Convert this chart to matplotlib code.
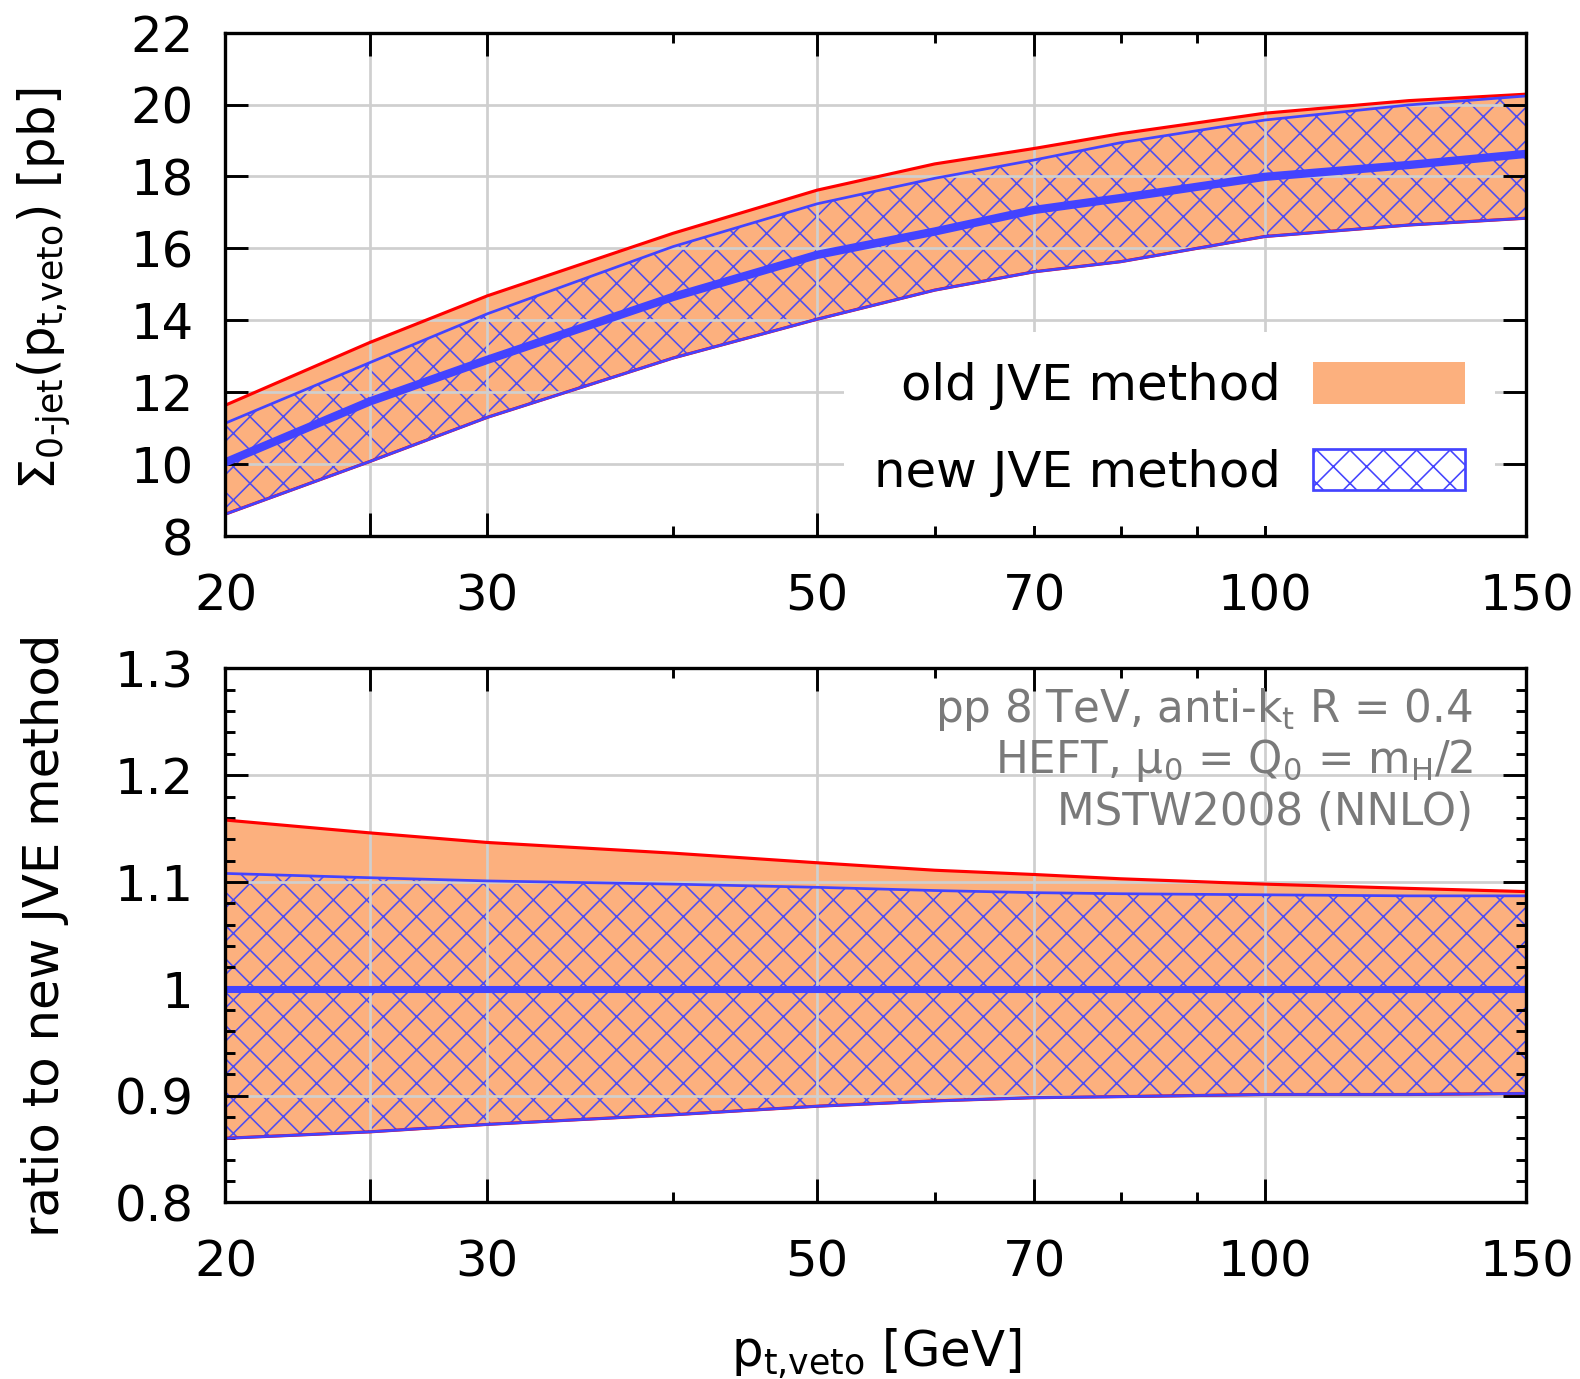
import numpy as np
import matplotlib.pyplot as plt
from matplotlib.patches import Patch
from matplotlib.ticker import FixedLocator, FuncFormatter, NullFormatter, MultipleLocator

plt.rcParams['font.family'] = ['DejaVu Sans']
plt.rcParams['mathtext.default'] = 'regular'
plt.rcParams['hatch.linewidth'] = 1.15

# jet veto scale [GeV]
pt_veto = [20, 25, 30, 40, 50, 60, 70, 80, 100, 125, 150]

# 0-jet cross section [pb]
old_hi = [11.64, 13.38, 14.68, 16.42, 17.62, 18.35, 18.78, 19.19, 19.76, 20.11, 20.29]
old_lo = [8.61, 10.07, 11.30, 12.95, 14.03, 14.84, 15.35, 15.63, 16.33, 16.65, 16.84]
new_hi = [11.14, 12.82, 14.18, 16.05, 17.24, 17.95, 18.46, 18.94, 19.57, 19.99, 20.24]
new_lo = [8.61, 10.07, 11.30, 12.95, 14.03, 14.84, 15.35, 15.63, 16.33, 16.65, 16.84]
new_mid = [10.05, 11.74, 12.90, 14.65, 15.82, 16.47, 17.07, 17.40, 17.99, 18.32, 18.63]

# ratio to the central new JVE result
r_old_hi = [1.158, 1.146, 1.137, 1.127, 1.118, 1.111, 1.107, 1.103, 1.098, 1.094, 1.091]
r_old_lo = [0.860, 0.866, 0.873, 0.882, 0.890, 0.895, 0.898, 0.899, 0.901, 0.901, 0.902]
r_new_hi = [1.108, 1.104, 1.101, 1.098, 1.095, 1.092, 1.090, 1.089, 1.088, 1.087, 1.087]
r_new_lo = [0.860, 0.866, 0.873, 0.882, 0.890, 0.895, 0.898, 0.899, 0.901, 0.901, 0.902]
r_new_mid = [1.0] * len(pt_veto)

x_major = [20, 25, 30, 50, 70, 100, 150]
x_minor = [40, 60, 80, 90]

orange = '#fcb07e'
red = '#ff0000'
blue = '#4343ff'
hatch_blue = '#4d4df2'
fs = 35.8

fig = plt.figure(figsize=(15.8, 13.79), dpi=100)
ax1 = fig.add_axes([0.1427, 0.6113, 0.8234, 0.3650])
ax2 = fig.add_axes([0.1427, 0.1281, 0.8234, 0.3872])


def draw_bands(ax, lo_old, hi_old, lo_new, hi_new, mid, mid_lw):
    ax.fill_between(pt_veto, lo_old, hi_old, facecolor=orange, edgecolor='none',
                    lw=0, zorder=1)
    ax.fill_between(pt_veto, lo_new, hi_new, facecolor='none', edgecolor=hatch_blue,
                    hatch='x', lw=0, zorder=1.2)
    ax.plot(pt_veto, hi_old, color=red, lw=2.25, zorder=3)
    ax.plot(pt_veto, lo_old, color=red, lw=2.25, zorder=3)
    ax.plot(pt_veto, hi_new, color=blue, lw=1.95, zorder=3.1)
    ax.plot(pt_veto, lo_new, color=blue, lw=1.95, zorder=3.1)
    ax.plot(pt_veto, mid, color=blue, lw=mid_lw, zorder=3.2)


def style_axes(ax):
    ax.set_xscale('log')
    ax.set_xlim(20, 150)
    ax.xaxis.set_major_locator(FixedLocator(x_major))
    ax.xaxis.set_major_formatter(FuncFormatter(lambda v, _: '' if v == 25 else f'{v:g}'))
    ax.xaxis.set_minor_locator(FixedLocator(x_minor))
    ax.xaxis.set_minor_formatter(NullFormatter())
    ax.tick_params(which='both', direction='in', top=True, right=True, width=2.1,
                   labelsize=fs)
    ax.tick_params(which='major', length=16.5)
    ax.tick_params(which='minor', length=7.5)
    ax.tick_params(axis='x', which='both', pad=26)
    ax.tick_params(axis='y', which='both', pad=23)
    ax.set_axisbelow(False)
    ax.grid(True, which='major', color='#cfcfcf', lw=1.95)
    for s in ax.spines.values():
        s.set_linewidth(2.4)
        s.set_zorder(4)


# top panel: absolute cross section
draw_bands(ax1, old_lo, old_hi, new_lo, new_hi, new_mid, 6.0)
style_axes(ax1)
ax1.set_ylim(8, 22)
ax1.yaxis.set_major_locator(MultipleLocator(2))
ax1.set_ylabel('Σ$_{\\text{0-jet}}$(p$_{\\text{t,veto}}$) [pb]', fontsize=fs,
               va='center', rotation_mode='anchor')
ax1.yaxis.set_label_coords(-0.139, 0.49)

handles = [Patch(facecolor=orange, edgecolor='none', lw=0),
           Patch(facecolor='white', edgecolor=blue, hatch='x', lw=1.95)]
leg = ax1.legend(handles, ['old JVE method', 'new JVE method'],
                 loc='lower right', bbox_to_anchor=(0.976, 0.019),
                 markerfirst=False, fontsize=fs, handlelength=3.07,
                 handleheight=0.92, handletextpad=0.64, labelspacing=0.78,
                 frameon=True, fancybox=False, framealpha=1, facecolor='white',
                 edgecolor='none', borderpad=0.6, borderaxespad=0)
leg.set_zorder(5)

# bottom panel: ratio to new JVE method
draw_bands(ax2, r_old_lo, r_old_hi, r_new_lo, r_new_hi, r_new_mid, 5.1)
style_axes(ax2)
ax2.set_ylim(0.8, 1.3)
ax2.yaxis.set_major_locator(MultipleLocator(0.1))
ax2.yaxis.set_minor_locator(MultipleLocator(0.02))
ax2.yaxis.set_major_formatter(FuncFormatter(lambda v, _: f'{v:.1f}'.rstrip('0').rstrip('.')))
ax2.set_ylabel('ratio to new JVE method', fontsize=fs, va='center',
               rotation_mode='anchor')
ax2.yaxis.set_label_coords(-0.139, 0.5)
ax2.set_xlabel('p$_{\\text{t,veto}}$ [GeV]', fontsize=fs, va='top')
ax2.xaxis.set_label_coords(0.5, -0.232)

info = ['pp 8 TeV, anti-k$_t$ R = 0.4',
        'HEFT, μ$_0$ = Q$_0$ = m$_H$/2',
        'MSTW2008 (NNLO)']
for line, yb in zip(info, [0.9004, 0.8037, 0.7069]):
    ax2.text(0.9589, yb, line, transform=ax2.transAxes, ha='right', va='baseline',
             fontsize=31.4, color='#7a7a7a', zorder=6)

fig.savefig('out.png', dpi=100)
